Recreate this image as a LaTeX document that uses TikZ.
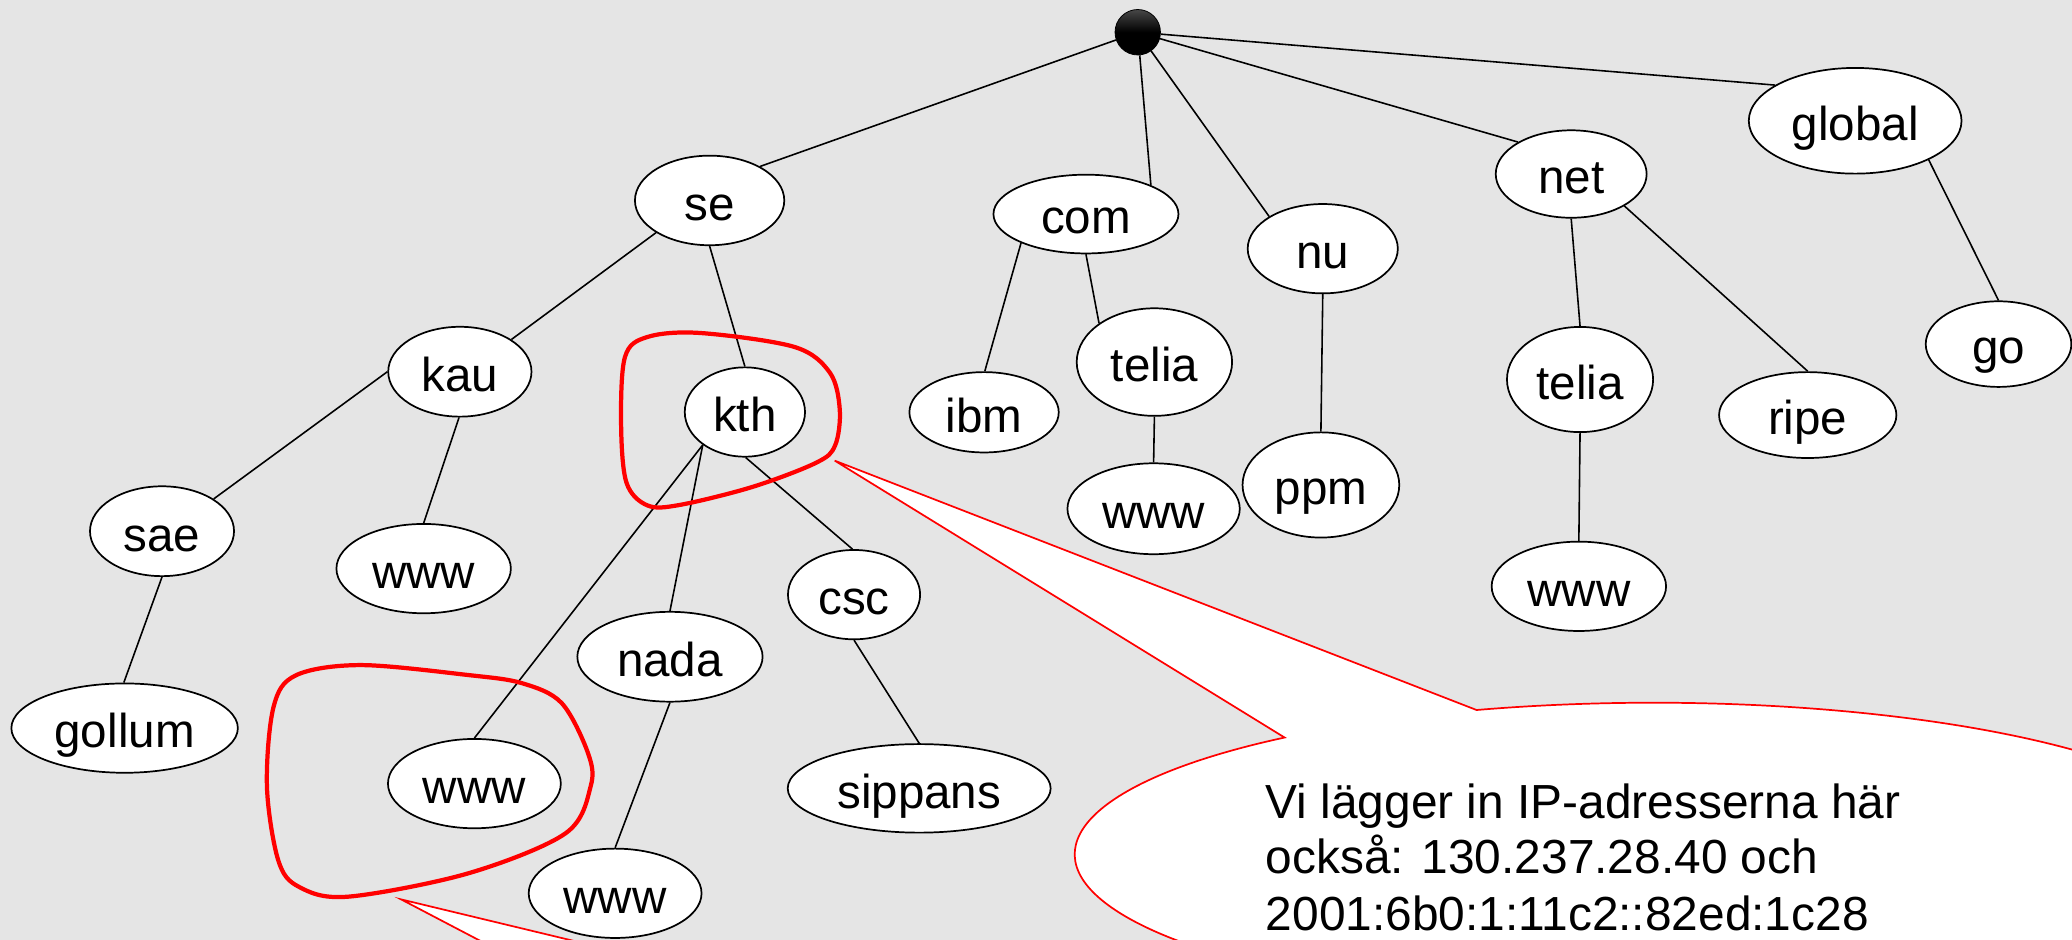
\documentclass[tikz,border=0pt]{standalone}
\usepackage{fontspec}
\setmainfont{Liberation Sans}
\usetikzlibrary{shapes.geometric}
\definecolor{bg}{RGB}{229,229,229}
\begin{document}
\begin{tikzpicture}[x=0.5pt,y=-0.5pt,
  nd/.style={ellipse, draw=black, fill=white, line width=0.65pt, inner sep=0pt,
    text height=15pt, text depth=0pt, font=\fontsize{18pt}{21pt}\selectfont},
  ed/.style={draw=black, line width=0.6pt},
  blob/.style={draw=red, line width=1.6pt},
  callout/.style={draw=red, fill=white, line width=0.65pt, line join=miter},
  ctext/.style={anchor=base west, inner sep=0pt, font=\fontsize{18.1pt}{21pt}\selectfont}]
\useasboundingbox (0,0) rectangle (1568,711);
\clip (0,0) rectangle (1568,711);
\fill[bg] (0,0) rectangle (1568,711);

% nodes
\node[circle, inner sep=0pt, minimum size=17.2pt, top color=black!72, bottom color=black, middle color=black, draw=black, line width=0.3pt] (root) at (861,24.4) {};
\node[nd, minimum width=56.5pt, minimum height=33.9pt] (se) at (537,151.7) {se};
\node[nd, minimum width=70pt, minimum height=29.8pt] (com) at (821.8,162) {com};
\node[nd, minimum width=56.8pt, minimum height=33.8pt] (nu) at (1001,188.2) {nu};
\node[nd, minimum width=57.1pt, minimum height=33.1pt] (net) at (1189,131.7) {net};
\node[nd, minimum width=80.5pt, minimum height=40pt] (global) at (1403.9,91.4) {global};
\node[nd, minimum width=54.2pt, minimum height=34pt] (kau) at (348,281.3) {kau};
\node[nd, minimum width=45.5pt, minimum height=33.8pt] (kth) at (563.7,311.8) {kth};
\node[nd, minimum width=56.5pt, minimum height=30.4pt] (ibm) at (744.7,312) {ibm};
\node[nd, minimum width=58.8pt, minimum height=40.7pt] (teliac) at (873.6,274) {telia};
\node[nd, minimum width=65.2pt, minimum height=34.4pt] (wwwc) at (873,385) {www};
\node[nd, minimum width=59.3pt, minimum height=39.8pt] (ppm) at (999.6,367) {ppm};
\node[nd, minimum width=55.3pt, minimum height=39.8pt] (telian) at (1195.7,287.2) {telia};
\node[nd, minimum width=67.1pt, minimum height=32.5pt] (ripe) at (1368,314.1) {ripe};
\node[nd, minimum width=55.1pt, minimum height=32.4pt] (go) at (1512.4,260.4) {go};
\node[nd, minimum width=66pt, minimum height=33.8pt] (wwwt) at (1194.8,443.7) {www};
\node[nd, minimum width=54.5pt, minimum height=34pt] (sae) at (122.6,402) {sae};
\node[nd, minimum width=66pt, minimum height=33.8pt] (wwwa) at (320.6,430.3) {www};
\node[nd, minimum width=85.7pt, minimum height=33.8pt] (gollum) at (94.3,551) {gollum};
\node[nd, minimum width=50pt, minimum height=33.8pt] (csc) at (646.3,450) {csc};
\node[nd, minimum width=70.1pt, minimum height=34pt] (nada) at (507,497) {nada};
\node[nd, minimum width=65.4pt, minimum height=33.8pt] (wwwk) at (359,593) {www};
\node[nd, minimum width=99.5pt, minimum height=33.5pt] (sippans) at (695.6,596.6) {sippans};
\node[nd, minimum width=65.4pt, minimum height=33.8pt] (wwwd) at (465.5,676) {www};

% edges
\draw[ed] (root) -- (se.34);
\draw[ed] (root) -- (com.24);
\draw[ed] (root) -- (nu.149);
\draw[ed] (root) -- (net.149);
\draw[ed] (root) -- (global.156);
\draw[ed] (se.211) -- (kau.32);
\draw[ed] (se.270) -- (kth.90);
\draw[ed] (kau.180) -- (sae.32);
\draw[ed] (kau.269) -- (wwwa.90);
\draw[ed] (sae.270) -- (gollum.91);
\draw[ed] (kth.218) -- (wwwk.90);
\draw[ed] (kth.218) -- (nada.90);
\draw[ed] (kth.271) -- (csc.92);
\draw[ed] (nada.270) -- (wwwd.90);
\draw[ed] (csc.270) -- (sippans.90);
\draw[ed] (com.204) -- (ibm.89);
\draw[ed] (com.270) -- (teliac.145);
\draw[ed] (teliac.270) -- (wwwc.90);
\draw[ed] (nu.270) -- (ppm.90);
\draw[ed] (net.270) -- (telian.90);
\draw[ed] (net.329) -- (ripe.90);
\draw[ed] (global.332) -- (go.90);
\draw[ed] (telian.270) -- (wwwt.90);

% red outlines
\draw[blob] plot[smooth cycle, tension=0.55] coordinates {
  (470,320) (473,270) (490,255) (530,252) (601,262.5) (628,282) (635.5,310)
  (632,337) (618,350) (570,368.3) (515,382) (490,382.5) (474,365)};
\draw[blob] plot[smooth cycle, tension=0.55] coordinates {
  (202,595) (207,535) (224,511) (273,503.3) (354,510.8) (395,517) (425,532)
  (445,570) (447,595) (428,630.6) (354,661) (263,678.6) (226,671) (210.5,650.8)};

% callouts
\coordinate (tipA) at (631.7,348.6);
\coordinate (jA) at (1117.4,537.3);
\path[callout] (tipA) -- (jA) arc[start angle=107.8, end angle=-230.4, x radius=219pt, y radius=57.35pt] -- cycle;
\node[ctext] (c1) at (957.5,619.3) {Vi lägger in IP-adresserna här};
\node[ctext] (c2) at (957.5,661) {också: 130.237.28.40 och};
\node[ctext] (c3) at (957.5,703.8) {2001:6b0:1:11c2::82ed:1c28};

\coordinate (tipB) at (303.5,680.6);
\coordinate (bB1) at (388.3,725);
\coordinate (bB2) at (488.2,725);
\path[callout] (tipB) -- (bB1) -- (bB2) -- cycle;
\end{tikzpicture}
\end{document}
